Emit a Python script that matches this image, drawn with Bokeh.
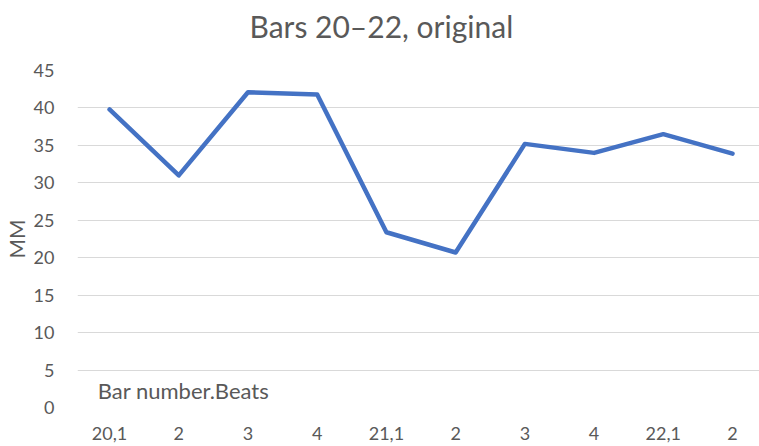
from bokeh.plotting import figure
from bokeh.models import Range1d, FixedTicker, Label, ColumnDataSource, Title
from bokeh.embed import file_html
from bokeh.resources import INLINE

title_text = "Bars 20\u201322, original"
categories = ["20,1", "2", "3", "4", "21,1", "2", "3", "4", "22,1", "2"]
mm_values = [39.8, 31.0, 42.1, 41.8, 23.4, 20.7, 35.2, 34.0, 36.5, 33.9]
y_ticks = [0, 5, 10, 15, 20, 25, 30, 35, 40, 45]

FONT = "Lato"
GREY = "#595959"

idx = list(range(len(categories)))
src = ColumnDataSource(data=dict(x=idx, y=mm_values))

p = figure(width=759, height=446, output_backend="svg", toolbar_location=None,
           x_range=Range1d(-0.463, 9.39), y_range=Range1d(0, 45),
           min_border_left=60, min_border_right=0, min_border_bottom=39,
           min_border_top=70)

p.title.text = title_text
p.title.align = "left"
p.title.offset = 172
p.title.text_font = FONT
p.title.text_font_size = "30px"
p.title.text_font_style = "normal"
p.title.text_color = GREY

# small blank spacer between the title and the plot area
spacer = Title(text=" ", text_font_size="8px", text_font=FONT)
p.above.insert(0, spacer)

p.line("x", "y", source=src, line_color="#4472C4", line_width=4.5,
       line_join="round", line_cap="round")

p.outline_line_color = None
p.xgrid.grid_line_color = None
p.ygrid.grid_line_color = "#D9D9D9"
p.ygrid.grid_line_width = 1.2

p.yaxis.ticker = FixedTicker(ticks=y_ticks)
p.xaxis.ticker = FixedTicker(ticks=idx)
p.xaxis.major_label_overrides = {i: c for i, c in enumerate(categories)}

for ax in (p.xaxis[0], p.yaxis[0]):
    ax.axis_line_color = None
    ax.major_tick_line_color = None
    ax.minor_tick_line_color = None
    ax.major_label_text_font = FONT
    ax.major_label_text_font_size = "18px"
    ax.major_label_text_color = GREY

p.xaxis.major_label_standoff = 13
p.yaxis.major_label_standoff = 17

p.yaxis.axis_label = "MM"
p.yaxis.axis_label_text_font = FONT
p.yaxis.axis_label_text_font_size = "21px"
p.yaxis.axis_label_text_font_style = "normal"
p.yaxis.axis_label_text_color = GREY
p.yaxis.axis_label_standoff = 2

p.add_layout(Label(x=-0.17, y=0, y_offset=4, text="Bar number.Beats",
                   text_font=FONT, text_font_size="22px", text_color=GREY))

open("out.html", "w").write(file_html(p, INLINE))
